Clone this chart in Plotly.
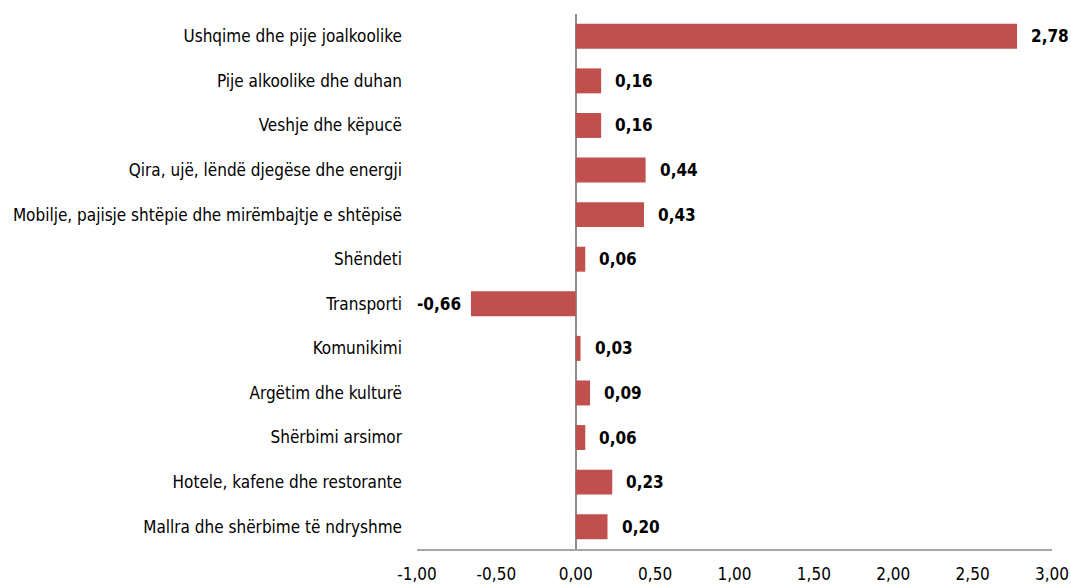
import plotly.graph_objects as go

categories = [
    "Ushqime dhe pije joalkoolike",
    "Pije alkoolike dhe duhan",
    "Veshje dhe këpucë",
    "Qira, ujë, lëndë djegëse dhe energji",
    "Mobilje, pajisje shtëpie dhe mirëmbajtje e shtëpisë",
    "Shëndeti",
    "Transporti",
    "Komunikimi",
    "Argëtim dhe kulturë",
    "Shërbimi arsimor",
    "Hotele, kafene dhe restorante",
    "Mallra dhe shërbime të ndryshme",
]
values = [2.78, 0.16, 0.16, 0.44, 0.43, 0.06, -0.66, 0.03, 0.09, 0.06, 0.23, 0.20]
tick_vals = [-1.0, -0.5, 0.0, 0.5, 1.0, 1.5, 2.0, 2.5, 3.0]
tick_labels = ["-1,00", "-0,50", "0,00", "0,50", "1,00", "1,50", "2,00", "2,50", "3,00"]

FONT = "Liberation Sans Narrow, Arial Narrow, DejaVu Sans Condensed, Liberation Sans, sans-serif"

fig = go.Figure(go.Bar(
    x=values, y=categories, orientation="h",
    marker=dict(color="#C0504D", line=dict(width=0)),
    width=0.56, hoverinfo="skip",
))

for c, v in zip(categories, values):
    fig.add_annotation(
        x=v, y=c, xref="x", yref="y",
        text="<b>" + f"{v:.2f}".replace(".", ",") + "</b>",
        showarrow=False,
        xanchor="left" if v >= 0 else "right",
        xshift=12 if v >= 0 else -8,
        font=dict(family=FONT, size=17, color="#000000"),
    )

fig.update_layout(
    width=1071, height=585,
    margin=dict(l=417, r=19, t=14, b=36),
    paper_bgcolor="white", plot_bgcolor="white",
    showlegend=False,
    font=dict(family=FONT, size=17, color="#000000"),
    xaxis=dict(
        range=[-1, 3], tickvals=tick_vals, ticktext=tick_labels,
        showgrid=False, zeroline=True, zerolinecolor="#8C8C8C", zerolinewidth=2,
        showline=True, linecolor="#A6A6A6", linewidth=1.5,
        ticks="", ticklabelstandoff=9, automargin=False,
        tickfont=dict(family=FONT, size=17, color="#000000"),
        fixedrange=True,
    ),
    yaxis=dict(
        autorange="reversed", showgrid=False, zeroline=False, showline=False,
        ticks="", ticklabelstandoff=14, automargin=False,
        tickfont=dict(family=FONT, size=17, color="#000000"),
        fixedrange=True,
    ),
)

fig.write_html(
    "out.html",
    config={"displayModeBar": False},
    post_script="document.body.style.margin='0';document.body.style.overflow='hidden';",
)
